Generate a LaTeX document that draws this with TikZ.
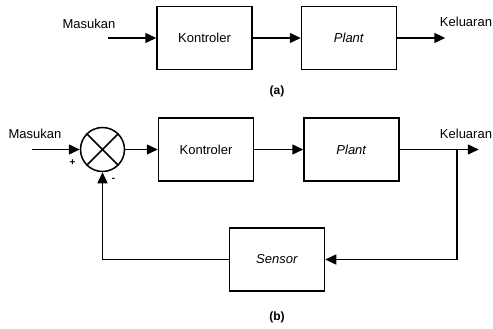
\documentclass[tikz,border=0pt]{standalone}
\usepackage{fontspec}
\setmainfont{Liberation Sans}
\usetikzlibrary{arrows.meta,positioning}

\begin{document}
\begin{tikzpicture}[x=1pt, y=-1pt,
  font=\fontsize{13}{15}\selectfont, line width=1.5pt,
  >={Triangle[length=11pt,width=10pt]},
  blok/.style={draw, minimum width=95pt, minimum height=63pt, inner sep=0pt},
  sumpt/.style={draw, circle, minimum size=44pt, inner sep=0pt},
  lab/.style={anchor=base, inner sep=0pt},
  tanda/.style={font=\bfseries\fontsize{10}{12}\selectfont, inner sep=0pt},
  judul/.style={anchor=base, inner sep=0pt, font=\bfseries\fontsize{12}{14}\selectfont}]
\useasboundingbox (0,0) rectangle (493,329);
% (a) open loop
\node[blok] (ka) at (204.5,38) {Kontroler};
\node[blok, right=48pt of ka] (pa) {\textit{Plant}};
\coordinate[left=48pt of ka] (ina);
\coordinate[right=48pt of pa] (outa);
\draw[->] (ina) -- (ka);
\draw[->] (ka) -- (pa);
\draw[->] (pa) -- (outa);
\node[lab] (ma) at (89,29) {Masukan};
\node[lab] (kla) at (466,27) {Keluaran};
\node[judul] (capa) at (277,95) {(a)};
% (b) closed loop
\node[sumpt] (sum) at (102.5,149.5) {};
\draw (sum.north west) -- (sum.south east);
\draw (sum.north east) -- (sum.south west);
\node[blok, right=32.5pt of sum] (kb) {Kontroler};
\node[blok, right=49pt of kb] (pb) {\textit{Plant}};
\node[blok] (sb) at (277,259.5) {\textit{Sensor}};
\coordinate[left=48pt of sum] (inb);
\coordinate[right=79pt of pb] (outb);
\coordinate[right=57pt of pb] (cab);
\draw[->] (inb) -- (sum);
\draw[->] (sum) -- (kb);
\draw[->] (kb) -- (pb);
\draw[->] (pb) -- (outb);
\draw[->] (cab) |- (sb.east);
\draw[->] (sb.west) -| (sum.south);
\node[lab] (mb) at (35,139) {Masukan};
\node[lab] (klb) at (466,138) {Keluaran};
\node[tanda] (plus) at (72.5,163) {+};
\node[tanda] (minus) at (113.5,180) {-};
\node[judul] (capb) at (277,320) {(b)};
\end{tikzpicture}
\end{document}
